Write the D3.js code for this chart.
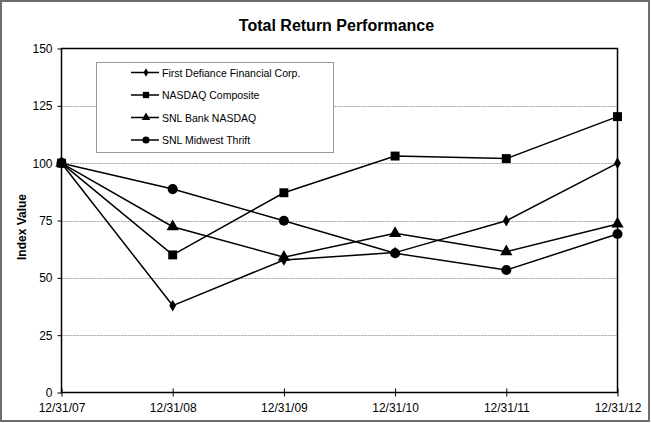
<!DOCTYPE html>
<html><head><meta charset="utf-8">
<script src="https://cdn.jsdelivr.net/npm/d3@7"></script>
<style>body{margin:0;background:#fff}svg{display:block}text{font-family:Arial,"Liberation Sans",sans-serif}</style>
</head><body>
<svg id="c" width="651" height="423"></svg>
<script>
const categories = ["12/31/07","12/31/08","12/31/09","12/31/10","12/31/11","12/31/12"];
const firstDefiance = [100, 37.9, 57.8, 61.0, 74.9, 100.0];
const nasdaqComposite = [100, 60.0, 87.1, 103.1, 102.0, 120.3];
const snlBankNasdaq = [100, 72.3, 59.0, 69.4, 61.4, 73.5];
const snlMidwestThrift = [100, 88.7, 74.9, 60.7, 53.4, 69.1];
const yTicks = [0, 25, 50, 75, 100, 125, 150];
const seriesNames = ["First Defiance Financial Corp.","NASDAQ Composite","SNL Bank NASDAQ","SNL Midwest Thrift"];
const seriesValues = [firstDefiance, nasdaqComposite, snlBankNasdaq, snlMidwestThrift];
const symbols = [d3.symbolDiamond, d3.symbolSquare, d3.symbolTriangle, d3.symbolCircle];
const symSizes = [40, 80, 65, 80];

const svg = d3.select("#c");
svg.append("rect").attr("x",1).attr("y",1).attr("width",648).attr("height",420)
  .attr("fill","#fff").attr("stroke","#6e6e6e").attr("stroke-width",2);

const L=61.5, R=617.5, T=48.5, B=392.5;
const x = d3.scalePoint().domain(categories).range([L,R]);
const y = d3.scaleLinear().domain([0,150]).range([B,T]);

// grid
svg.append("g").selectAll("line").data(yTicks.filter(d=>d>0&&d<150)).join("line")
  .attr("x1",L).attr("x2",R).attr("y1",d=>Math.round(y(d))+0.5).attr("y2",d=>Math.round(y(d))+0.5)
  .attr("stroke","#a0a0a0").attr("stroke-dasharray","2,1").attr("stroke-width",1);

// frame
svg.append("rect").attr("x",L).attr("y",T).attr("width",R-L).attr("height",B-T)
  .attr("fill","none").attr("stroke","#000").attr("stroke-width",1.5);

// axes
const ya = svg.append("g").attr("transform",`translate(${L},0)`)
  .call(d3.axisLeft(y).tickValues(yTicks).tickSize(4).tickPadding(5));
ya.select(".domain").remove();
ya.selectAll("text").attr("font-size",12).attr("fill","#000");
ya.selectAll("line").attr("stroke","#000");

const xa = svg.append("g").attr("transform",`translate(0,${B})`)
  .call(d3.axisBottom(x).tickSize(4).tickPadding(7));
xa.select(".domain").remove();
xa.selectAll("line").attr("y1",-4).attr("y2",4).attr("stroke","#000");
xa.selectAll("text").attr("font-size",12).attr("fill","#000");

// title
svg.append("text").attr("x",(L+R)/2-3).attr("y",31).attr("text-anchor","middle")
  .attr("font-size",16).attr("font-weight","bold").text("Total Return Performance");
svg.append("text").attr("transform",`translate(26,227) rotate(-90)`)
  .attr("text-anchor","middle").attr("font-size",12).attr("font-weight","bold").text("Index Value");

// lines
const line = d3.line().x((d,i)=>x(categories[i])).y(d=>y(d));
seriesValues.forEach((vals,k)=>{
  svg.append("path").attr("d",line(vals)).attr("fill","none").attr("stroke","#000").attr("stroke-width",1.5);
});
seriesValues.forEach((vals,k)=>{
  svg.append("g").selectAll("path").data(vals).join("path")
    .attr("transform",(d,i)=>`translate(${x(categories[i])},${y(d)})`)
    .attr("d",d3.symbol(symbols[k],symSizes[k])).attr("fill","#000");
});

// legend
const lg = svg.append("g");
lg.append("rect").attr("x",96.5).attr("y",62.5).attr("width",237).attr("height",90)
  .attr("fill","#fff").attr("stroke","#999").attr("stroke-width",1);
seriesNames.forEach((n,k)=>{
  const yy = 72.5 + k*22.5;
  lg.append("line").attr("x1",131).attr("x2",159).attr("y1",yy).attr("y2",yy).attr("stroke","#000").attr("stroke-width",1.5);
  lg.append("path").attr("transform",`translate(146,${yy})`).attr("d",d3.symbol(symbols[k],symSizes[k]*0.5)).attr("fill","#000");
  lg.append("text").attr("x",162).attr("y",yy+4).attr("font-size",10.5).text(n);
});
</script>
</body></html>
